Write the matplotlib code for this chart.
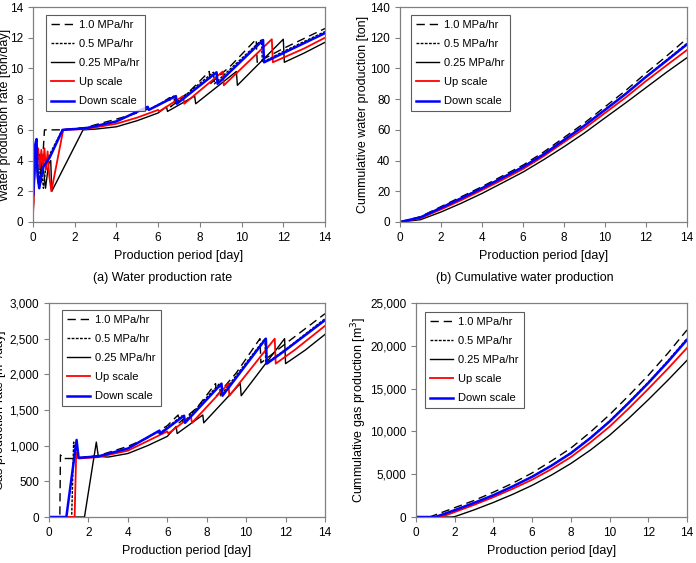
import matplotlib
matplotlib.use("Agg")
import matplotlib.pyplot as plt
from matplotlib.ticker import FuncFormatter

plt.rcParams['font.family'] = ['Liberation Sans', 'DejaVu Sans']

# ---- (a) water production rate [ton/day] ----
wr10_x = [0, 0.05, 0.12, 0.2, 0.3, 0.4, 0.55, 1.25, 2.5, 4.0, 5.0, 6.0, 6.55, 6.6, 7.5, 8.45, 8.5, 9.5, 10.7, 10.75, 12.0, 14.0]
wr10_y = [0, 3.0, 4.6, 3.2, 4.4, 2.6, 6.0, 6.0, 6.15, 6.7, 7.1, 7.6, 8.1, 7.5, 8.5, 9.8, 9.0, 10.2, 11.9, 10.4, 11.3, 12.6]
wr05_x = [0, 0.05, 0.15, 0.25, 0.35, 0.5, 0.65, 1.4, 2.5, 4.0, 5.5, 5.55, 6.75, 6.8, 8.65, 8.7, 10.95, 11.0, 12.0, 14.0]
wr05_y = [0, 3.5, 5.0, 2.5, 4.2, 2.2, 4.0, 6.0, 6.1, 6.55, 7.5, 7.3, 8.2, 7.7, 9.75, 9.0, 11.85, 10.4, 11.1, 12.4]
wr025_x = [0, 0.05, 0.15, 0.3, 0.45, 0.6, 0.75, 0.85, 0.9, 2.4, 3.0, 4.0, 5.0, 6.0, 6.4, 6.45, 7.75, 7.8, 9.75, 9.8, 12.0, 12.05, 13.0, 14.0]
wr025_y = [0, 2.5, 4.2, 2.6, 4.0, 2.2, 3.8, 4.0, 2.0, 6.0, 6.05, 6.2, 6.6, 7.1, 7.5, 7.2, 8.2, 7.7, 9.8, 8.9, 11.9, 10.4, 11.0, 11.7]
wrup_x = [0, 0.05, 0.1, 0.18, 0.25, 0.32, 0.4, 0.48, 0.55, 0.62, 0.7, 0.78, 0.88, 1.45, 2.5, 4.0, 5.0, 6.0, 6.05, 7.2, 7.25, 9.1, 9.15, 11.45, 11.5, 13.0, 14.0]
wrup_y = [0.5, 2.0, 4.5, 3.8, 4.8, 3.5, 4.7, 3.6, 4.8, 3.4, 4.6, 3.0, 2.0, 6.0, 6.05, 6.4, 6.8, 7.3, 7.2, 8.2, 7.7, 9.8, 8.9, 11.9, 10.4, 11.3, 12.0]
wrdn_x = [0.02, 0.05, 0.1, 0.17, 0.22, 0.3, 0.4, 0.5, 0.8, 1.42, 2.5, 4.0, 5.5, 5.55, 6.85, 6.9, 8.8, 8.85, 11.03, 11.08, 12.0, 14.0]
wrdn_y = [1.8, 3.0, 5.0, 5.4, 3.0, 2.2, 3.0, 3.6, 4.2, 6.0, 6.1, 6.55, 7.5, 7.3, 8.2, 7.7, 9.75, 9.0, 11.85, 10.4, 11.0, 12.3]

# ---- (b) cumulative water production [ton] ----
cw_x = [0, 1, 2, 3, 4, 5, 6, 7, 8, 9, 10, 11, 12, 13, 14]
cw10_y = [0, 3.5, 10, 16.5, 23, 30, 37, 45.5, 55, 64.5, 75, 85.5, 97, 108, 119.5]
cw05_y = [0, 3.2, 9.5, 15.8, 22.2, 29, 36, 44.3, 53.6, 63, 73.2, 83.5, 94.7, 105.5, 116.3]
cw025_y = [0, 1.5, 6.5, 12.3, 18.6, 25.5, 32.5, 40.5, 49, 58, 67.8, 77.5, 87.5, 97.5, 107]
cwup_y = [0, 2.5, 8.2, 14.3, 20.8, 27.5, 34.5, 42.8, 52, 61, 71, 81, 91.8, 102, 112]
cwdn_y = [0, 3, 9.2, 15.5, 22, 28.8, 35.8, 44, 53.4, 62.8, 73, 83.3, 94.5, 105, 115.7]

# ---- (c) gas production rate [m3/day] ----
gr10_x = [0, 0.55, 0.58, 0.65, 0.7, 1.3, 2.5, 4.0, 5.0, 6.0, 6.55, 6.6, 7.5, 8.45, 8.5, 9.5, 10.7, 10.75, 12.0, 14.0]
gr10_y = [0, 0, 870, 850, 820, 820, 860, 990, 1110, 1280, 1430, 1320, 1530, 1870, 1700, 2020, 2500, 2160, 2430, 2850]
gr05_x = [0, 1.15, 1.25, 1.35, 2.5, 4.0, 5.5, 5.55, 6.75, 6.8, 8.65, 8.7, 10.95, 11.0, 12.0, 14.0]
gr05_y = [0, 0, 1050, 830, 850, 960, 1200, 1160, 1420, 1320, 1870, 1700, 2500, 2150, 2350, 2780]
gr025_x = [0, 1.8, 2.4, 2.5, 3.0, 4.0, 5.0, 6.0, 6.45, 6.5, 7.8, 7.85, 9.7, 9.75, 11.95, 12.0, 13.0, 14.0]
gr025_y = [0, 0, 1050, 850, 840, 890, 1000, 1130, 1270, 1170, 1430, 1320, 1870, 1700, 2500, 2150, 2340, 2560]
grup_x = [0, 1.3, 1.38, 1.5, 2.5, 4.0, 6.0, 6.05, 7.2, 7.25, 9.1, 9.15, 11.45, 11.5, 12.5, 14.0]
grup_y = [0, 0, 900, 820, 840, 930, 1200, 1170, 1410, 1320, 1870, 1700, 2500, 2150, 2350, 2680]
grdn_x = [0, 0.88, 1.4, 1.5, 2.5, 4.0, 5.6, 5.65, 6.85, 6.9, 8.75, 8.8, 11.0, 11.05, 12.0, 14.0]
grdn_y = [0, 0, 1080, 830, 850, 960, 1210, 1170, 1420, 1320, 1870, 1700, 2500, 2150, 2340, 2760]

# ---- (d) cumulative gas production [m3] ----
cg10_x = [0, 0.7, 1, 2, 3, 4, 5, 6, 7, 8, 9, 10, 11, 12, 13, 14]
cg10_y = [0, 0, 250, 1090, 1930, 2900, 3950, 5150, 6550, 8050, 9900, 11950, 14200, 16550, 19100, 21850]
cg05_x = [0, 1.15, 2, 3, 4, 5, 6, 7, 8, 9, 10, 11, 12, 13, 14]
cg05_y = [0, 0, 750, 1620, 2540, 3580, 4720, 6030, 7500, 9260, 11220, 13430, 15750, 18220, 20850]
cg025_x = [0, 1.8, 2, 3, 4, 5, 6, 7, 8, 9, 10, 11, 12, 13, 14]
cg025_y = [0, 0, 40, 830, 1700, 2650, 3700, 4900, 6250, 7800, 9550, 11550, 13700, 15950, 18300]
cgup_x = [0, 1.3, 2, 3, 4, 5, 6, 7, 8, 9, 10, 11, 12, 13, 14]
cgup_y = [0, 0, 580, 1420, 2320, 3300, 4360, 5600, 7000, 8700, 10560, 12700, 14960, 17300, 19750]
cgdn_x = [0, 1.0, 2, 3, 4, 5, 6, 7, 8, 9, 10, 11, 12, 13, 14]
cgdn_y = [0, 0, 800, 1650, 2550, 3580, 4700, 6000, 7450, 9200, 11150, 13350, 15650, 18100, 20700]

labels = ['1.0 MPa/hr', '0.5 MPa/hr', '0.25 MPa/hr', 'Up scale', 'Down scale']

fs_tick = 8.5
fs_lab = 9
spine_col = '#808080'
W, H = 696, 563


def draw(ax, series, ymax, ystep, ylabel, ylab_x, leg_off, comma=False):
    styles = [
        dict(color='black', lw=1.0, dashes=(6, 3.5)),
        dict(color='black', lw=1.0, dashes=(2, 1)),
        dict(color='black', lw=1.0),
        dict(color='#ff0000', lw=1.3),
        dict(color='#0000ff', lw=1.8),
    ]
    for (x, y), st, lab in zip(series, styles, labels):
        ax.plot(x, y, label=lab, **st)
    ax.set_xlim(0, 14)
    ax.set_ylim(0, ymax)
    ax.set_xticks(range(0, 15, 2))
    ax.set_yticks([i * ystep for i in range(int(ymax / ystep) + 1)])
    if comma:
        ax.yaxis.set_major_formatter(FuncFormatter(lambda v, p: '{:,.0f}'.format(v)))
    ax.tick_params(direction='out', length=3.5, width=0.8, color=spine_col,
                   labelsize=fs_tick, top=False, right=False)
    for s in ax.spines.values():
        s.set_color(spine_col)
        s.set_linewidth(0.9)
    ax.set_xlabel('Production period [day]', fontsize=fs_lab, labelpad=4.5)
    ax.set_ylabel(ylabel, fontsize=fs_lab)
    ax.yaxis.set_label_coords(ylab_x, 0.5)
    bb = ax.get_position()
    aw, ah = bb.width * W, bb.height * H
    leg = ax.legend(loc='upper left', fontsize=8, frameon=True, fancybox=False,
                    handlelength=2.1, handletextpad=0.45, labelspacing=0.82,
                    borderpad=0.45, borderaxespad=0,
                    bbox_to_anchor=(leg_off[0] / aw, 1 - leg_off[1] / ah))
    leg.get_frame().set_edgecolor('#333333')
    leg.get_frame().set_linewidth(0.8)


fig = plt.figure(figsize=(W / 100, H / 100), dpi=100)


def rect(l, r, t, b):
    return [l / W, 1 - b / H, (r - l) / W, (b - t) / H]


ax1 = fig.add_axes(rect(33, 325, 7, 222))
ax2 = fig.add_axes(rect(400, 687, 7, 222))
ax3 = fig.add_axes(rect(49, 325, 303, 517))
ax4 = fig.add_axes(rect(416, 687, 303, 517))

draw(ax1, [(wr10_x, wr10_y), (wr05_x, wr05_y), (wr025_x, wr025_y), (wrup_x, wrup_y), (wrdn_x, wrdn_y)],
     14, 2, 'Water production rate [ton/day]', -0.076, (13, 8))
draw(ax2, [(cw_x, cw10_y), (cw_x, cw05_y), (cw_x, cw025_y), (cw_x, cwup_y), (cw_x, cwdn_y)],
     140, 20, 'Cummulative water production [ton]', -0.109, (11, 8))
draw(ax3, [(gr10_x, gr10_y), (gr05_x, gr05_y), (gr025_x, gr025_y), (grup_x, grup_y), (grdn_x, grdn_y)],
     3000, 500, 'Gas production rate [m$^3$/day]', -0.140, (13, 7), comma=True)
draw(ax4, [(cg10_x, cg10_y), (cg05_x, cg05_y), (cg025_x, cg025_y), (cgup_x, cgup_y), (cgdn_x, cgdn_y)],
     25000, 5000, 'Cummulative gas production [m$^3$]', -0.175, (9, 9), comma=True)

fig.text(163 / W, 1 - 278 / H, '(a) Water production rate', ha='center', va='center', fontsize=9)
fig.text(525 / W, 1 - 278 / H, '(b) Cumulative water production', ha='center', va='center', fontsize=9)

fig.savefig('out.png', dpi=100)
